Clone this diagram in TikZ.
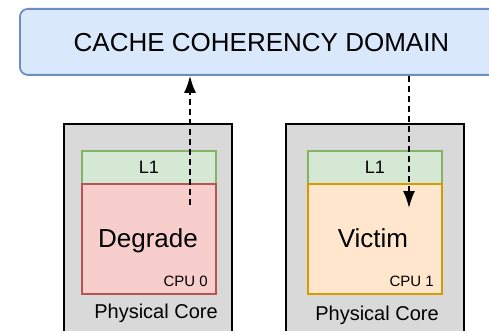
\documentclass[tikz,border=0pt]{standalone}
\usepackage{fontspec}
\setmainfont{Liberation Sans}
\usetikzlibrary{arrows.meta}
\definecolor{domfill}{HTML}{DAE8FC}
\definecolor{domline}{HTML}{6C8EBF}
\definecolor{lonefill}{HTML}{D5E8D4}
\definecolor{loneline}{HTML}{82B366}
\definecolor{redfill}{HTML}{F8CECC}
\definecolor{redline}{HTML}{B85450}
\definecolor{orfill}{HTML}{FFE6CC}
\definecolor{orline}{HTML}{D79B00}
\definecolor{corefill}{HTML}{D9D9D9}
\tikzset{
  box/.style={draw, line width=1.8pt, rectangle, inner sep=0pt},
  corebox/.style={box, fill=corefill, draw=black, line width=2pt, minimum height=230pt},
  lone/.style={box, fill=lonefill, draw=loneline, minimum width=134pt, minimum height=33pt, font=\fontsize{18}{20}\selectfont},
  cpubox/.style={box, minimum width=134pt, minimum height=110pt, font=\fontsize{26}{28}\selectfont},
  small/.style={font=\fontsize{15}{17}\selectfont, inner sep=0pt, anchor=base east},
  corelabel/.style={font=\fontsize{20}{22}\selectfont, inner sep=0pt, anchor=base},
  flow/.style={line width=1.8pt, dash pattern=on 6pt off 4pt, -{Latex[length=17pt,width=12pt]}}
}
\begin{document}
\begin{tikzpicture}[x=1pt,y=-1pt]
\useasboundingbox (0,0) rectangle (489,331);
\clip (0,0) rectangle (489,331);
% domain
\node[box, fill=domfill, draw=domline, rounded corners=8pt, anchor=north west,
      minimum width=500pt, minimum height=66pt] (dom) at (19,8) {};
\node[font=\fontsize{26}{28}\selectfont, inner sep=0pt, anchor=base] (title) at (261.5,52) {CACHE COHERENCY DOMAIN};
% left core
\node[corebox, minimum width=168pt, anchor=north west] (core0) at (63,123) {};
\node[lone, anchor=north west] (l10) at (81,150) {L1};
\node[cpubox, fill=redfill, draw=redline, anchor=north west] (cpu0) at (81,183) {};
\node[font=\fontsize{26}{28}\selectfont, inner sep=0pt, anchor=base] (deg) at (148,247) {Degrade};
\node[small] (c0) at (208,286) {CPU 0};
\node[corelabel] (pc0) at (156,318) {Physical Core};
% right core
\node[corebox, minimum width=178pt, anchor=north west] (core1) at (285,123) {};
\node[lone, anchor=north west] (l11) at (307,150) {L1};
\node[cpubox, fill=orfill, draw=orline, anchor=north west] (cpu1) at (307,183) {};
\node[font=\fontsize{26}{28}\selectfont, inner sep=0pt, anchor=base] (vic) at (373,247) {Victim};
\node[small] (c1) at (434,286) {CPU 1};
\node[corelabel] (pc1) at (377,320) {Physical Core};
% arrows
\coordinate (a0) at (190,205);
\coordinate (a1) at (409,208);
\draw[flow] (a0) -- (a0 |- dom.south);
\draw[flow] (a1 |- dom.south) -- (a1);
\end{tikzpicture}
\end{document}
